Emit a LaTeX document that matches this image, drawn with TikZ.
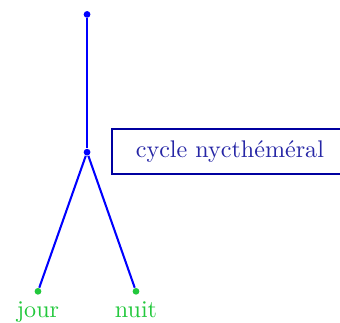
\documentclass[tikz,border=0pt]{standalone}
\definecolor{branch}{HTML}{0000FF}
\definecolor{leaf}{HTML}{22C83C}
\definecolor{frame}{HTML}{0000A0}
\definecolor{caption}{HTML}{2525A5}
\usepackage{tikz}
\usetikzlibrary{positioning}
\tikzset{
  dot_b/.style={circle,fill=branch,inner sep=0pt,minimum size=2.8pt},
  dot_g/.style={circle,fill=leaf,inner sep=0pt,minimum size=2.8pt},
  leaf_txt/.style={font=\color{leaf},inner sep=1pt},
  cap_box/.style={draw=frame,line width=0.7pt,inner xsep=0.35cm,minimum height=0.66cm,
    font=\color{caption},anchor=west},
  edge_b/.style={draw=branch,line width=0.85pt},
}

\begin{document}
\begin{tikzpicture}
    \useasboundingbox (0,0) rectangle (4.96,4.70);
    \node[dot_b] (top) at (1.27,4.49) {};
    \node[dot_b] (mid) at (1.27,2.48) {};
    \node[dot_g] (jour) at (0.554,0.45) {};
    \node[dot_g] (nuit) at (1.984,0.45) {};

    \node[leaf_txt,below=0.05cm of jour] (tj) {jour};
    \node[leaf_txt,below=0.05cm of nuit] (tn) {nuit};

    \node[cap_box] (cyc) at (1.62,2.49) {cycle nycthéméral};

    \draw[edge_b](top)--(mid);
    \draw[edge_b](mid)--(jour);\draw[edge_b](mid)--(nuit);
\end{tikzpicture}
\end{document}
